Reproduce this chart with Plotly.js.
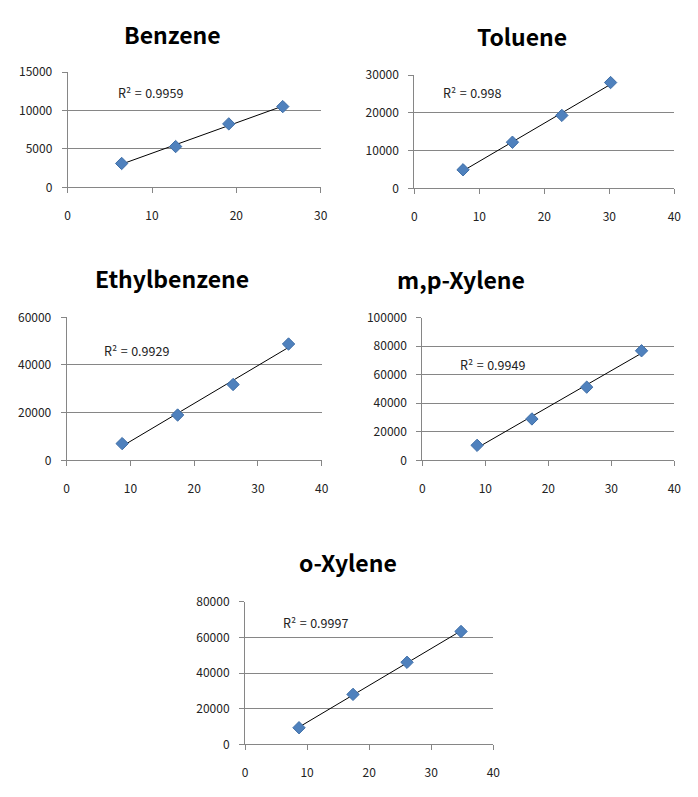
<!DOCTYPE html>
<html>
<head>
<meta charset="utf-8">
<script src="https://cdn.plot.ly/plotly-3.0.1.min.js"></script>
<style>html,body{margin:0;padding:0;background:#fff;}#chart{width:698px;height:797px;}</style>
</head>
<body>
<div id="chart"></div>
<script>
// ---- data ----
const chartTitles = ['Benzene', 'Toluene', 'Ethylbenzene', 'm,p-Xylene', 'o-Xylene'];
const r2Labels = ['R² = 0.9959', 'R² = 0.998', 'R² = 0.9929', 'R² = 0.9949', 'R² = 0.9997'];

const benzeneX = [6.4, 12.8, 19.1, 25.5];
const benzeneY = [3100, 5300, 8250, 10500];

const tolueneX = [7.5, 15.1, 22.7, 30.2];
const tolueneY = [4900, 12200, 19300, 28000];

const ethylbenzeneX = [8.7, 17.4, 26.1, 34.8];
const ethylbenzeneY = [7000, 19000, 31800, 48800];

const mpXyleneX = [8.7, 17.4, 26.1, 34.8];
const mpXyleneY = [10500, 29000, 51300, 76800];

const oXyleneX = [8.7, 17.4, 26.1, 34.8];
const oXyleneY = [9300, 28000, 46000, 63300];

const xMax = [30, 40, 40, 40, 40];
const yMax = [15000, 30000, 60000, 100000, 80000];
const yDtick = [5000, 10000, 20000, 20000, 20000];

// ---- layout geometry (pixels in 698x797 page) ----
const W = 698, H = 797;
const boxes = [ // [left, right, top, bottom]
  [67.7, 320.7, 72, 187.3],
  [414.3, 674.3, 75, 188.3],
  [66.7, 321.7, 317.3, 460.3],
  [422.3, 674.3, 317.7, 460.3],
  [245, 493.3, 601.7, 744.3]
];
const titlePos = [[172, 34], [522, 36], [172, 278], [461, 279], [348, 562]];
const r2Pos = [[116, 92], [441, 92], [102, 350], [458, 364], [281, 622]];

const xs = [benzeneX, tolueneX, ethylbenzeneX, mpXyleneX, oXyleneX];
const ys = [benzeneY, tolueneY, ethylbenzeneY, mpXyleneY, oXyleneY];

function linfit(x, y) {
  const n = x.length;
  const mx = x.reduce((a, b) => a + b, 0) / n;
  const my = y.reduce((a, b) => a + b, 0) / n;
  let sxy = 0, sxx = 0;
  for (let i = 0; i < n; i++) { sxy += (x[i] - mx) * (y[i] - my); sxx += (x[i] - mx) ** 2; }
  const b = sxy / sxx;
  return [b, my - b * mx];
}

const baseFont = 'Noto Sans CJK KR, Noto Sans, sans-serif';
const tickFont = {family: baseFont, size: 12, color: '#222'};
const traces = [];
const layout = {
  width: W, height: H,
  margin: {l: 0, r: 0, t: 0, b: 0},
  paper_bgcolor: '#fff', plot_bgcolor: '#fff',
  showlegend: false,
  annotations: []
};

for (let i = 0; i < 5; i++) {
  const sfx = i === 0 ? '' : String(i + 1);
  const xa = 'x' + sfx, ya = 'y' + sfx;
  const [b, a] = linfit(xs[i], ys[i]);
  const x0 = xs[i][0], x1 = xs[i][xs[i].length - 1];
  traces.push({
    x: [x0, x1], y: [a + b * x0, a + b * x1],
    mode: 'lines', line: {color: '#000', width: 1},
    xaxis: xa, yaxis: ya, hoverinfo: 'skip'
  });
  traces.push({
    x: xs[i], y: ys[i], mode: 'markers',
    marker: {symbol: 'diamond', size: 9.5, color: '#4F81BD', line: {color: '#3F6FA8', width: 1}},
    xaxis: xa, yaxis: ya
  });
  const [l, r, t, bt] = boxes[i];
  layout['xaxis' + sfx] = {
    domain: [l / W, r / W], anchor: ya,
    range: [0, xMax[i]], dtick: 10, tick0: 0, tickformat: 'd',
    showgrid: false, zeroline: false,
    showline: true, linecolor: '#868686', linewidth: 1,
    ticks: 'outside', ticklen: 5, tickcolor: '#868686',
    ticklabelstandoff: 12,
    tickfont: tickFont, fixedrange: true
  };
  layout['yaxis' + sfx] = {
    domain: [1 - bt / H, 1 - t / H], anchor: xa,
    range: [0, yMax[i]], dtick: yDtick[i], tick0: 0, tickformat: 'd',
    showgrid: true, gridcolor: '#868686', gridwidth: 1, zeroline: false,
    showline: true, linecolor: '#868686', linewidth: 1,
    ticks: 'outside', ticklen: 5, tickcolor: '#868686',
    ticklabelstandoff: 7,
    tickfont: tickFont, fixedrange: true
  };
  layout.annotations.push({
    text: '<b>' + chartTitles[i] + '</b>', xref: 'paper', yref: 'paper',
    x: titlePos[i][0] / W, y: 1 - titlePos[i][1] / H,
    xanchor: 'center', yanchor: 'middle', showarrow: false,
    font: {family: baseFont, size: 23, color: '#000'}
  });
  layout.annotations.push({
    text: r2Labels[i].replace(/ /g, '\u00a0\u200a'), xref: 'paper', yref: 'paper',
    x: r2Pos[i][0] / W, y: 1 - r2Pos[i][1] / H,
    xanchor: 'left', yanchor: 'middle', showarrow: false,
    font: {family: baseFont, size: 12.5, color: '#222'}
  });
}

Plotly.newPlot('chart', traces, layout, {displayModeBar: false, staticPlot: true});
</script>
</body>
</html>
